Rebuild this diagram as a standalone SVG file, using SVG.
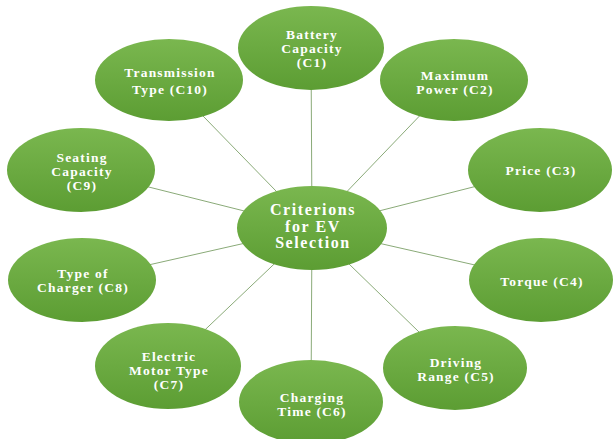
<svg xmlns="http://www.w3.org/2000/svg" width="614" height="439" viewBox="0 0 614 439">
<defs>
<linearGradient id="g" x1="0" y1="0" x2="0" y2="1">
<stop offset="0" stop-color="#7ab74f"/>
<stop offset="1" stop-color="#5c9d33"/>
</linearGradient>
<style>
.n{fill:url(#g);}
.t{font-family:"Liberation Serif","Times New Roman",serif;font-weight:bold;font-size:13.5px;fill:#ffffff;text-anchor:middle;letter-spacing:1.2px;}
.c{font-size:16px;letter-spacing:1.6px;}
.l{stroke:#8aaa78;stroke-width:1;fill:none;}
</style>
</defs>
<rect width="614" height="439" fill="#ffffff"/>
<g id="connectors">
<line class="l" x1="312" y1="228" x2="311" y2="48"/>
<line class="l" x1="312" y1="228" x2="454" y2="80"/>
<line class="l" x1="312" y1="228" x2="540" y2="170"/>
<line class="l" x1="312" y1="228" x2="541" y2="280"/>
<line class="l" x1="312" y1="228" x2="455" y2="367"/>
<line class="l" x1="312" y1="228" x2="311" y2="402"/>
<line class="l" x1="312" y1="228" x2="168" y2="365"/>
<line class="l" x1="312" y1="228" x2="82" y2="280"/>
<line class="l" x1="312" y1="228" x2="81" y2="170"/>
<line class="l" x1="312" y1="228" x2="168" y2="80"/>
</g>
<g id="center">
<ellipse class="n" cx="312" cy="228" rx="75" ry="42"/>
<text class="t c" x="313" y="215">Criterions</text>
<text class="t c" x="313" y="231.5">for EV</text>
<text class="t c" x="313" y="248">Selection</text>
</g>
<g id="c1">
<ellipse class="n" cx="311" cy="48" rx="73" ry="42"/>
<text class="t" x="312" y="39">Battery</text>
<text class="t" x="312" y="53">Capacity</text>
<text class="t" x="312" y="67">(C1)</text>
</g>
<g id="c2">
<ellipse class="n" cx="454" cy="80" rx="74" ry="41"/>
<text class="t" x="455" y="80">Maximum</text>
<text class="t" x="455" y="94">Power (C2)</text>
</g>
<g id="c3">
<ellipse class="n" cx="540" cy="170" rx="72" ry="42"/>
<text class="t" x="541" y="175">Price (C3)</text>
</g>
<g id="c4">
<ellipse class="n" cx="541" cy="280" rx="72" ry="42"/>
<text class="t" x="542" y="286">Torque (C4)</text>
</g>
<g id="c5">
<ellipse class="n" cx="455" cy="368" rx="72" ry="42"/>
<text class="t" x="456" y="367">Driving</text>
<text class="t" x="456" y="381">Range (C5)</text>
</g>
<g id="c6">
<ellipse class="n" cx="311" cy="402" rx="72" ry="42"/>
<text class="t" x="312" y="402">Charging</text>
<text class="t" x="312" y="416">Time (C6)</text>
</g>
<g id="c7">
<ellipse class="n" cx="168" cy="366" rx="73" ry="43"/>
<text class="t" x="169" y="361">Electric</text>
<text class="t" x="169" y="375">Motor Type</text>
<text class="t" x="169" y="389">(C7)</text>
</g>
<g id="c8">
<ellipse class="n" cx="82" cy="280" rx="74" ry="42"/>
<text class="t" x="83" y="278">Type of</text>
<text class="t" x="83" y="292">Charger (C8)</text>
</g>
<g id="c9">
<ellipse class="n" cx="81" cy="170" rx="74" ry="42"/>
<text class="t" x="82" y="162">Seating</text>
<text class="t" x="82" y="176">Capacity</text>
<text class="t" x="82" y="190">(C9)</text>
</g>
<g id="c10">
<ellipse class="n" cx="169" cy="80" rx="74" ry="41"/>
<text class="t" x="170" y="77">Transmission</text>
<text class="t" x="170" y="94">Type (C10)</text>
</g>
</svg>
